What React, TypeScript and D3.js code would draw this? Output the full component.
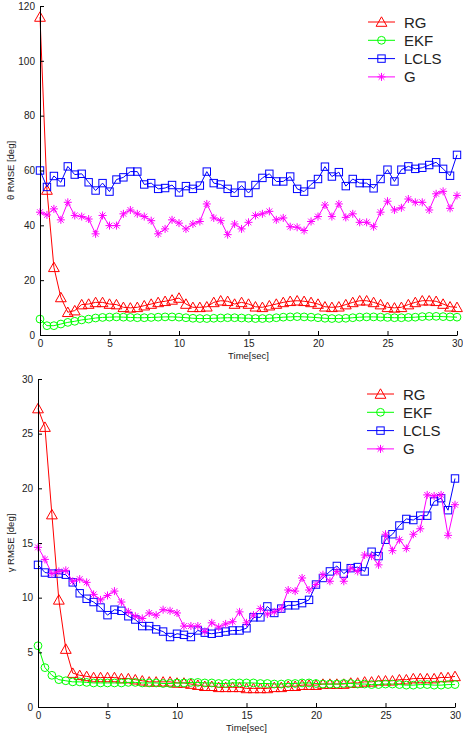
import React, { useEffect, useRef } from 'react';
import * as d3 from 'd3';

const time = d3.range(0, 30.25, 0.5);
const seriesNames = ['RG', 'EKF', 'LCLS', 'G'];
const seriesColors = ['#ff0000', '#00ff00', '#0000ff', '#ff00ff'];
const seriesMarkers = ['triangle', 'circle', 'square', 'star'];

const thetaTicks = [0, 20, 40, 60, 80, 100, 120];
const gammaTicks = [0, 5, 10, 15, 20, 25, 30];
const timeTicks = [0, 5, 10, 15, 20, 25, 30];

// theta RMSE [deg]
const thetaRG = [
  116, 52.9, 24.7, 13.7, 8.3, 8.9, 11.1, 11.3, 11.9, 11.9,
  11.3, 11.1, 10.1, 9.9, 10.1, 10.7, 11.3, 11.9, 12.3, 12.8,
  13.5, 11.3, 10.1, 10.1, 10.3, 11.9, 12.5, 12.3, 11.3, 11.9,
  11.3, 10.3, 10.1, 10.7, 11.3, 11.9, 12.3, 12.5, 12.3, 11.9,
  11.3, 10.3, 10.1, 10.3, 11.1, 11.9, 12.5, 12.5, 11.9, 11.1,
  10.1, 9.9, 10.1, 11.1, 11.9, 12.5, 12.5, 12.3, 11.3, 10.3,
  10.1
];
const thetaEKF = [
  5.8, 3.4, 3.4, 4.0, 4.6, 5.0, 5.5, 5.8, 6.2, 6.4,
  6.5, 6.6, 6.5, 6.4, 6.3, 6.3, 6.4, 6.5, 6.6, 6.6,
  6.5, 6.3, 6.1, 6.0, 6.0, 6.1, 6.2, 6.3, 6.3, 6.2,
  6.1, 6.0, 6.0, 6.1, 6.3, 6.5, 6.6, 6.7, 6.6, 6.5,
  6.3, 6.1, 6.0, 6.0, 6.1, 6.3, 6.5, 6.6, 6.6, 6.5,
  6.4, 6.3, 6.3, 6.4, 6.5, 6.7, 6.8, 6.8, 6.7, 6.6,
  6.5
];
const thetaLCLS = [
  60, 54, 58, 55.7, 61.5, 58.5, 58.8, 55.7, 52.7, 55.4,
  52.3, 56.7, 57.5, 59.6, 59.6, 54.9, 55.4, 53.3, 53.6, 54.7,
  52, 54.3, 53.3, 54.5, 59.6, 55.4, 54.9, 53.3, 51.9, 54.5,
  51.8, 54.7, 57.3, 58.8, 56, 56, 57.8, 53.3, 52.3, 54.9,
  56.9, 61.4, 57.8, 59.4, 54.3, 56.9, 55.4, 55.4, 53.5, 56.9,
  60.3, 56, 60.3, 61.5, 60.6, 61, 62, 63, 60.6, 58.1,
  65.7
];
const thetaG = [
  44.8, 43.8, 46, 42, 48.4, 43.6, 43.2, 42.3, 36.9, 43.6,
  39.9, 39.9, 44.2, 45.6, 44.2, 43.2, 41.7, 36.9, 38.7, 42,
  40.8, 38.7, 40.5, 41.4, 47.8, 42.7, 41.7, 36.6, 40.5, 38.7,
  41.1, 43.6, 44.2, 45.1, 42, 42.7, 39.5, 39.3, 38.1, 41.4,
  43.2, 47.4, 43.2, 47.8, 42.9, 44.2, 41.1, 41.1, 39.5, 44.8,
  48.8, 45.6, 46.4, 49.6, 48.4, 48.4, 45.6, 51.5, 52.4, 46.2,
  50.9
];

// gamma RMSE [deg]
const gammaRG = [
  27.3, 25.6, 17.6, 9.8, 5.3, 3.1, 2.9, 2.8, 2.7, 2.7,
  2.7, 2.7, 2.6, 2.6, 2.5, 2.4, 2.3, 2.3, 2.3, 2.3,
  2.2, 2.2, 2.1, 2.0, 1.9, 1.9, 1.8, 1.8, 1.8, 1.8,
  1.7, 1.7, 1.7, 1.7, 1.8, 1.8, 1.9, 1.9, 2.0, 2.0,
  2.0, 2.1, 2.1, 2.1, 2.1, 2.2, 2.2, 2.3, 2.3, 2.4,
  2.4, 2.4, 2.5, 2.5, 2.6, 2.6, 2.6, 2.6, 2.7, 2.7,
  2.8
];
const gammaEKF = [
  5.6, 3.6, 2.9, 2.5, 2.4, 2.3, 2.3, 2.25, 2.2, 2.2,
  2.2, 2.2, 2.2, 2.25, 2.25, 2.2, 2.2, 2.2, 2.15, 2.15,
  2.2, 2.2, 2.25, 2.25, 2.2, 2.2, 2.15, 2.15, 2.2, 2.2,
  2.2, 2.2, 2.15, 2.15, 2.1, 2.1, 2.15, 2.15, 2.2, 2.2,
  2.15, 2.1, 2.1, 2.1, 2.15, 2.15, 2.1, 2.1, 2.05, 2.05,
  2.1, 2.1, 2.05, 2.0, 2.0, 2.05, 2.05, 2.0, 2.0, 2.05,
  2.05
];
const gammaLCLS = [
  13.0, 12.3, 12.2, 12.2, 12.1, 11.4, 10.4, 9.9, 9.6, 9.1,
  8.4, 8.9, 8.8, 8.3, 8.0, 7.4, 7.4, 7.1, 6.9, 6.4,
  6.7, 6.6, 6.4, 7.0, 6.8, 6.7, 6.8, 6.9, 7.0, 7.0,
  7.2, 8.2, 8.2, 9.2, 8.6, 9.0, 9.3, 9.3, 9.5, 9.8,
  11.2, 11.8, 12.4, 12.9, 12.2, 12.7, 12.8, 12.4, 14.2, 13.8,
  15.3, 15.8, 16.6, 17.2, 17.1, 17.5, 17.5, 18.8, 19.1, 18.0,
  20.9
];
const gammaG = [
  14.6, 13.5, 12.2, 12.4, 12.5, 11.5, 11.7, 11.4, 10.3, 9.8,
  10.2, 10.6, 9.6, 8.7, 8.3, 8.1, 8.6, 8.4, 8.9, 8.8,
  8.6, 7.4, 7.4, 7.4, 6.9, 7.7, 7.3, 7.6, 7.8, 8.7,
  7.7, 8.4, 9.0, 8.5, 8.7, 9.0, 10.7, 10.6, 11.8, 10.7,
  11.2, 12.1, 11.5, 12.4, 11.5, 12.7, 12.4, 13.9, 13.8, 13.0,
  15.8, 14.3, 15.3, 14.5, 15.8, 16.3, 19.4, 19.3, 19.4, 15.7,
  18.5
];

const panels = [
  {
    series: [thetaRG, thetaEKF, thetaLCLS, thetaG],
    yMax: 120, yTicks: thetaTicks, yLabel: 'θ RMSE [deg]',
    left: 40, right: 457, top: 6, bottom: 335,
    legendX: 368, legendY: 22
  },
  {
    series: [gammaRG, gammaEKF, gammaLCLS, gammaG],
    yMax: 30, yTicks: gammaTicks, yLabel: 'γ RMSE [deg]',
    left: 38, right: 455, top: 379, bottom: 707,
    legendX: 367, legendY: 394
  }
];

const FONT = 'Liberation Sans, Arial, Helvetica, sans-serif';

const drawMarker = (g: any, type: string, x: number, y: number, color: string) => {
  if (type === 'triangle') {
    g.append('path')
      .attr('d', `M${x},${y - 5.2}L${x + 5.4},${y + 4.3}L${x - 5.4},${y + 4.3}Z`)
      .attr('fill', 'none').attr('stroke', color).attr('stroke-width', 1);
  } else if (type === 'circle') {
    g.append('circle').attr('cx', x).attr('cy', y).attr('r', 3.9)
      .attr('fill', 'none').attr('stroke', color).attr('stroke-width', 1);
  } else if (type === 'square') {
    g.append('rect').attr('x', x - 3.7).attr('y', y - 3.7)
      .attr('width', 7.4).attr('height', 7.4)
      .attr('fill', 'none').attr('stroke', color).attr('stroke-width', 1);
  } else {
    const r = 4;
    const d = r * 0.72;
    g.append('path')
      .attr('d', `M${x - r},${y}L${x + r},${y}M${x},${y - r}L${x},${y + r}` +
        `M${x - d},${y - d}L${x + d},${y + d}M${x - d},${y + d}L${x + d},${y - d}`)
      .attr('stroke', color).attr('stroke-width', 1);
  }
};

const App = () => {
  const svgRef = useRef<SVGSVGElement | null>(null);

  useEffect(() => {
    const svg = d3.select(svgRef.current);
    svg.selectAll('*').remove();

    panels.forEach((p) => {
      const x = d3.scaleLinear().domain([0, 30]).range([p.left, p.right]);
      const y = d3.scaleLinear().domain([0, p.yMax]).range([p.bottom, p.top]);
      const g = svg.append('g');

      // series
      p.series.forEach((vals, i) => {
        const color = seriesColors[i];
        const pts = vals.map((v, k) => [time[k], v] as [number, number]);
        g.append('path')
          .datum(pts)
          .attr('fill', 'none')
          .attr('stroke', color)
          .attr('stroke-width', 1)
          .attr('d', d3.line<[number, number]>().x((d) => x(d[0])).y((d) => y(d[1])));
        const mg = g.append('g');
        pts.forEach((d) => drawMarker(mg, seriesMarkers[i], x(d[0]), y(d[1]), color));
      });

      // axes
      const ax = g.append('g')
        .attr('transform', `translate(0,${p.bottom})`)
        .call(d3.axisBottom(x).tickValues(timeTicks).tickSizeInner(-4).tickSizeOuter(0).tickPadding(5));
      const ay = g.append('g')
        .attr('transform', `translate(${p.left},0)`)
        .call(d3.axisLeft(y).tickValues(p.yTicks).tickSizeInner(-4).tickSizeOuter(0).tickPadding(5));
      [ax, ay].forEach((a) => {
        a.attr('font-family', FONT).attr('font-size', 10);
        a.selectAll('text').attr('fill', '#222');
        a.selectAll('line').attr('stroke', '#000');
        a.select('.domain').attr('stroke', '#000');
      });

      g.append('text')
        .attr('x', (p.left + p.right) / 2)
        .attr('y', p.bottom + 24)
        .attr('text-anchor', 'middle')
        .attr('font-family', FONT)
        .attr('font-size', 9.5)
        .attr('fill', '#222')
        .text('Time[sec]');

      g.append('text')
        .attr('transform', `translate(14,${(p.top + p.bottom) / 2}) rotate(-90)`)
        .attr('text-anchor', 'middle')
        .attr('font-family', FONT)
        .attr('font-size', 9.5)
        .attr('fill', '#222')
        .text(p.yLabel);

      // legend
      const lg = g.append('g');
      seriesNames.forEach((name, i) => {
        const ly = p.legendY + i * 18.3;
        lg.append('line')
          .attr('x1', p.legendX).attr('x2', p.legendX + 27)
          .attr('y1', ly).attr('y2', ly)
          .attr('stroke', seriesColors[i]).attr('stroke-width', 1);
        drawMarker(lg, seriesMarkers[i], p.legendX + 13.5, ly, seriesColors[i]);
        lg.append('text')
          .attr('x', p.legendX + 36)
          .attr('y', ly + 5.5)
          .attr('font-family', FONT)
          .attr('font-size', 15)
          .attr('fill', '#222')
          .text(name);
      });
    });
  }, []);

  return (
    <svg
      ref={svgRef}
      width={463}
      height={735}
      style={{ position: 'absolute', left: 0, top: 0, background: '#fff' }}
    />
  );
};

export default App;
